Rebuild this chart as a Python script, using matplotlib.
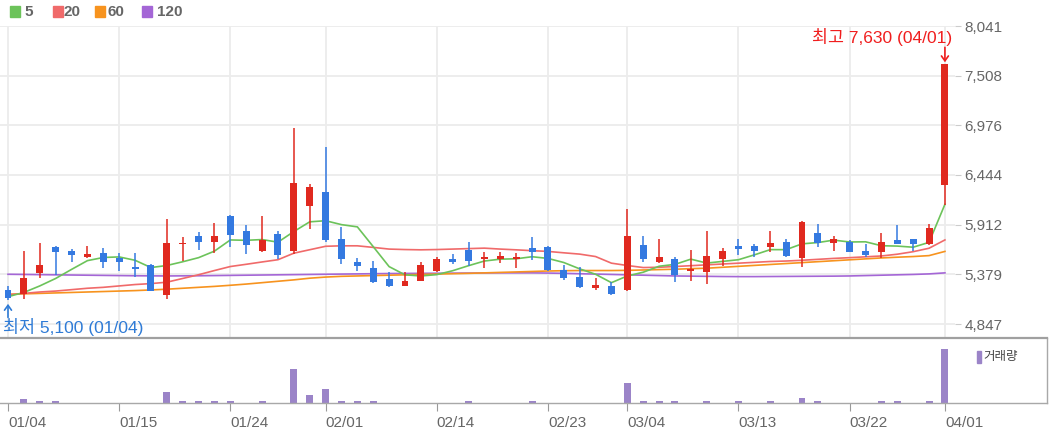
# -*- coding: utf-8 -*-
"""
일봉 캔들 차트 (2024-01-04 ~ 2024-04-01) + 이동평균선 + 거래량
"""
import matplotlib
matplotlib.use("Agg")
import matplotlib.pyplot as plt
from matplotlib.patches import Rectangle

plt.rcParams["font.family"] = ["Liberation Sans", "Noto Sans CJK KR", "DejaVu Sans"]

# ---- data ----
dates = [
    "01/04", "01/05", "01/08", "01/09", "01/10", "01/11", "01/12", "01/15", "01/16", "01/17",
    "01/18", "01/19", "01/22", "01/23", "01/24", "01/25", "01/26", "01/29", "01/30", "01/31",
    "02/01", "02/02", "02/05", "02/06", "02/07", "02/08", "02/13", "02/14", "02/15", "02/16",
    "02/19", "02/20", "02/21", "02/22", "02/23", "02/26", "02/27", "02/28", "02/29", "03/04",
    "03/05", "03/06", "03/07", "03/08", "03/11", "03/12", "03/13", "03/14", "03/15", "03/18",
    "03/19", "03/20", "03/21", "03/22", "03/25", "03/26", "03/27", "03/28", "03/29", "04/01",
]
tick_dates = ["01/04", "01/15", "01/24", "02/01", "02/14", "02/23",
              "03/04", "03/13", "03/22", "04/01"]

opens = [5210, 5170, 5390, 5670, 5630, 5570, 5610, 5550, 5460, 5480,
         5160, 5700, 5790, 5730, 6000, 5840, 5630, 5810, 5630, 6110,
         6260, 5760, 5510, 5450, 5330, 5250, 5310, 5410, 5540, 5640,
         5540, 5540, 5540, 5660, 5670, 5430, 5350, 5230, 5250, 5210,
         5690, 5510, 5540, 5410, 5400, 5540, 5680, 5680, 5670, 5730,
         5550, 5820, 5720, 5730, 5630, 5620, 5750, 5760, 5700, 6340]
highs = [5250, 5630, 5720, 5680, 5650, 5680, 5660, 5610, 5610, 5490,
         5970, 5780, 5830, 5930, 6010, 5910, 6000, 5840, 6950, 6350,
         6740, 5890, 5550, 5520, 5400, 5400, 5510, 5560, 5600, 5730,
         5620, 5620, 5610, 5780, 5680, 5480, 5460, 5340, 5300, 6080,
         5790, 5760, 5560, 5640, 5840, 5660, 5760, 5700, 5840, 5760,
         5950, 5920, 5790, 5750, 5700, 5820, 5910, 5760, 5920, 7630]
lows = [5100, 5110, 5340, 5370, 5510, 5550, 5450, 5410, 5350, 5200,
        5110, 5520, 5640, 5610, 5670, 5600, 5620, 5540, 5600, 5870,
        5730, 5490, 5410, 5290, 5240, 5250, 5310, 5400, 5490, 5470,
        5450, 5500, 5450, 5530, 5420, 5320, 5230, 5210, 5160, 5200,
        5510, 5500, 5300, 5310, 5280, 5470, 5590, 5560, 5620, 5560,
        5460, 5670, 5630, 5620, 5560, 5550, 5700, 5630, 5690, 6120]
closes = [5130, 5340, 5480, 5620, 5590, 5600, 5510, 5510, 5440, 5200,
          5710, 5710, 5730, 5790, 5800, 5690, 5750, 5590, 6360, 6320,
          5750, 5540, 5470, 5300, 5250, 5310, 5480, 5540, 5510, 5520,
          5560, 5580, 5560, 5620, 5430, 5340, 5240, 5270, 5170, 5790,
          5540, 5560, 5370, 5440, 5580, 5630, 5650, 5630, 5720, 5580,
          5940, 5720, 5760, 5620, 5590, 5730, 5700, 5700, 5880, 7630]

ma5 = [5140, 5185, 5255, 5335, 5432, 5526, 5560, 5566, 5530, 5452,
       5474, 5514, 5558, 5628, 5748, 5744, 5752, 5724, 5838, 5942,
       5954, 5912, 5888, 5676, 5462, 5374, 5362, 5376, 5418, 5472,
       5522, 5542, 5546, 5568, 5550, 5506, 5438, 5380, 5290, 5362,
       5402, 5466, 5486, 5542, 5500, 5518, 5536, 5588, 5644, 5644,
       5706, 5720, 5746, 5726, 5728, 5686, 5682, 5670, 5722, 6130]
ma20 = [5160, 5175, 5190, 5200, 5215, 5230, 5240, 5255, 5270, 5280,
        5295, 5335, 5375, 5420, 5463, 5487, 5512, 5536, 5606, 5643,
        5680, 5685, 5685, 5668, 5650, 5645, 5642, 5645, 5650, 5655,
        5660, 5650, 5642, 5633, 5625, 5610, 5596, 5570, 5499, 5474,
        5452, 5455, 5463, 5472, 5481, 5490, 5499, 5508, 5517, 5522,
        5530, 5540, 5550, 5558, 5567, 5576, 5595, 5622, 5659, 5748]
ma60 = [5165, 5170, 5175, 5180, 5185, 5190, 5195, 5200, 5205, 5212,
        5220, 5230, 5240, 5250, 5262, 5275, 5290, 5305, 5320, 5338,
        5350, 5358, 5362, 5366, 5370, 5374, 5378, 5382, 5386, 5390,
        5395, 5400, 5405, 5410, 5415, 5418, 5420, 5420, 5420, 5422,
        5426, 5430, 5434, 5440, 5445, 5455, 5465, 5475, 5485, 5495,
        5505, 5515, 5525, 5535, 5545, 5555, 5563, 5570, 5580, 5625]
ma120 = [5380, 5378, 5376, 5374, 5372, 5370, 5368, 5366, 5364, 5363,
         5362, 5363, 5364, 5366, 5368, 5370, 5372, 5374, 5376, 5378,
         5380, 5382, 5384, 5386, 5388, 5389, 5390, 5391, 5392, 5393,
         5394, 5395, 5395, 5395, 5393, 5390, 5386, 5382, 5378, 5374,
         5370, 5366, 5362, 5360, 5358, 5356, 5355, 5355, 5356, 5357,
         5358, 5359, 5360, 5362, 5366, 5370, 5374, 5378, 5384, 5395]

# 거래량 (천주) — 막대가 안 보이는 날은 0
volume = [0, 33, 17, 17, 0, 0, 0, 0, 0, 0,
          107, 17, 17, 17, 17, 0, 17, 0, 333, 77,
          137, 17, 17, 17, 0, 0, 0, 0, 0, 17,
          0, 0, 0, 17, 0, 0, 0, 0, 0, 200,
          17, 17, 17, 0, 17, 0, 17, 0, 17, 0,
          47, 17, 0, 0, 0, 17, 17, 0, 17, 540]

price_ticks = [4847, 5379, 5912, 6444, 6976, 7508, 8041]

UP, DOWN = "#e0291f", "#3479e0"
MA_COLORS = {"5": "#6cc35a", "20": "#f06a6a", "60": "#f7931e", "120": "#a466d6"}
GRID = "#ececec"
TXT = "#666666"

W, H = 1050, 434
STEP = 15.88      # px per candle
X0 = 8            # px of first candle


def fig_rect(left, top, right, bottom):
    return [left / W, 1 - bottom / H, (right - left) / W, (bottom - top) / H]


def main():
    fig = plt.figure(figsize=(W / 100, H / 100), dpi=100)
    fig.patch.set_facecolor("white")

    xs = list(range(len(dates)))
    tick_pos = [dates.index(d) for d in tick_dates]

    # ---- price panel ----
    ax = fig.add_axes(fig_rect(0, 26, 955, 338))
    ax.set_xlim(-X0 / STEP, (955 - X0) / STEP)
    px_price = (price_ticks[-1] - price_ticks[0]) / 298.0
    ax.set_ylim(price_ticks[0] - 14 * px_price, price_ticks[-1])

    ax.plot(xs, ma120, color=MA_COLORS["120"], lw=1.2, zorder=2)
    ax.plot(xs, ma60, color=MA_COLORS["60"], lw=1.2, zorder=2)
    ax.plot(xs, ma20, color=MA_COLORS["20"], lw=1.2, zorder=2)
    ax.plot(xs, ma5, color=MA_COLORS["5"], lw=1.2, zorder=2)

    cols = [UP if c > o else DOWN for o, c in zip(opens, closes)]
    ax.vlines(xs, lows, highs, colors=cols, lw=1.1, zorder=3)
    bottoms = [min(o, c) for o, c in zip(opens, closes)]
    heights = [max(abs(c - o), 12) for o, c in zip(opens, closes)]
    ax.bar(xs, heights, bottom=bottoms, width=0.44, color=cols, zorder=4)

    ax.set_xticks(tick_pos)
    ax.set_xticklabels([])
    ax.tick_params(axis="x", length=0)
    ax.yaxis.tick_right()
    ax.set_yticks(price_ticks)
    ax.set_yticklabels([f"{v:,}" for v in price_ticks])
    ax.tick_params(axis="y", length=4, color="#cccccc", pad=3,
                   labelsize=11, labelcolor=TXT)
    ax.grid(True, color=GRID, lw=1.3)
    ax.set_axisbelow(True)
    for s in ax.spines.values():
        s.set_visible(False)

    # 최고 / 최저 표시
    hi_i = highs.index(max(highs))
    lo_i = lows.index(min(lows))
    ax.annotate(f"최고 {highs[hi_i]:,} ({dates[hi_i]})", xy=(hi_i, highs[hi_i]),
                xytext=(7, 27), textcoords="offset pixels", ha="right",
                va="center", color="#f01e1e", fontsize=12.5)
    ax.annotate("", xy=(hi_i, highs[hi_i]), xytext=(0, 17),
                textcoords="offset pixels",
                arrowprops=dict(arrowstyle="->,head_length=0.35,head_width=0.25",
                                color="#f01e1e", lw=1.2, shrinkA=0, shrinkB=1.5))
    ax.annotate(f"최저 {lows[lo_i]:,} ({dates[lo_i]})", xy=(lo_i, lows[lo_i]),
                xytext=(-5, -27), textcoords="offset pixels", ha="left",
                va="center", color="#2f7bd6", fontsize=12.5)
    ax.annotate("", xy=(lo_i, lows[lo_i]), xytext=(0, -17),
                textcoords="offset pixels",
                arrowprops=dict(arrowstyle="->,head_length=0.35,head_width=0.25",
                                color="#2f7bd6", lw=1.2, shrinkA=0, shrinkB=2.5))

    # ---- volume panel ----
    av = fig.add_axes(fig_rect(0, 338, 1047, 402.5))
    av.set_xlim(-X0 / STEP, (1047 - X0) / STEP)
    av.set_ylim(0, 645)
    av.bar(xs, volume, width=0.44, color="#9b84c8")
    av.set_xticks(tick_pos)
    av.set_xticklabels(tick_dates, ha="left")
    av.set_yticks([])
    av.tick_params(axis="x", length=6, color="#999999", pad=4,
                   labelsize=11, labelcolor=TXT)
    for lab in av.get_xticklabels():
        lab.set_x(lab.get_position()[0])
    av.spines["left"].set_visible(False)
    av.spines["top"].set_color("#a0a0a0")
    av.spines["top"].set_linewidth(1.6)
    for k in ("bottom", "right"):
        av.spines[k].set_color("#a8a8a8")
        av.spines[k].set_linewidth(1.0)
    av.patch.set_facecolor("white")

    fig.add_artist(Rectangle((977 / W, 1 - 363 / H), 4 / W, 12 / H,
                             transform=fig.transFigure, color="#9b84c8"))
    fig.text(983 / W, 1 - 357 / H, "거래량", fontsize=9, color="#444444",
             va="center", ha="left")

    # ---- MA legend ----
    legend = [("5", 10, 24), ("20", 53, 64), ("60", 95, 108), ("120", 142, 157)]
    for name, sx, tx in legend:
        fig.add_artist(Rectangle((sx / W, 1 - 16.5 / H), 10 / W, 10 / H,
                                 transform=fig.transFigure, color=MA_COLORS[name]))
        fig.text(tx / W, 1 - 11.5 / H, name, fontsize=11, fontweight="bold",
                 color="#666666", va="center", ha="left")

    fig.savefig("out.png", dpi=100, facecolor="white")


if __name__ == "__main__":
    main()
